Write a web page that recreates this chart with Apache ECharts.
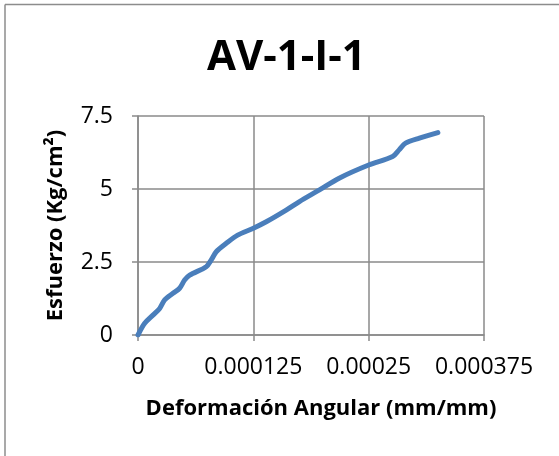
<!DOCTYPE html>
<html>
<head>
<meta charset="utf-8">
<script src="https://cdn.jsdelivr.net/npm/echarts@6/dist/echarts.min.js"></script>
<style>
  html, body { margin: 0; padding: 0; background: #fff; }
  #chart { width: 559px; height: 456px; }
</style>
</head>
<body>
<div id="chart"></div>
<script>
// datos
var deformacion = [0, 0.00000725, 0.0000162, 0.0000235, 0.0000289, 0.0000379, 0.0000451, 0.0000505, 0.000056,
    0.000074, 0.0000794, 0.0000848, 0.0000957, 0.000108, 0.0001245, 0.000139, 0.0001606, 0.000175, 0.0001967,
    0.000218, 0.00025, 0.000276, 0.000283, 0.00029, 0.000305, 0.000325]
var esfuerzo = [0, 0.40, 0.68, 0.91, 1.20, 1.43, 1.60, 1.88, 2.05,
    2.34, 2.57, 2.85, 3.14, 3.42, 3.65, 3.88, 4.28, 4.57, 4.97,
    5.37, 5.82, 6.11, 6.34, 6.57, 6.74, 6.93]
var xTicks = ['0', '0.000125', '0.00025', '0.000375']
var yTicks = ['0', '2.5', '5', '7.5']

var puntos = []
for (var i = 0; i < deformacion.length; i++) {
    puntos.push([deformacion[i], esfuerzo[i]])
}

var gris = '#8a8a8a'
var fuente = 'Open Sans'

var myChart = echarts.init(document.getElementById('chart'))
var option = {
    animation: false,
    graphic: [
        { type: 'line', shape: { x1: 5, y1: 4.5, x2: 559, y2: 4.5 }, style: { stroke: '#8c8c8c', lineWidth: 1.5 } },
        { type: 'line', shape: { x1: 5, y1: 4.5, x2: 5, y2: 456 }, style: { stroke: '#8c8c8c', lineWidth: 1.5 } }
    ],
    title: {
        text: 'AV-1-I-1',
        left: 202,
        top: 32,
        textStyle: { fontFamily: fuente, fontWeight: 'bold', fontSize: 42, color: '#000' }
    },
    grid: { left: 138, right: 75, top: 116, bottom: 121 },
    xAxis: {
        type: 'value',
        min: 0,
        max: 0.000375,
        interval: 0.000125,
        name: 'Deformación Angular (mm/mm)',
        nameLocation: 'middle',
        nameGap: 63,
        nameTextStyle: { fontFamily: fuente, fontWeight: 'bold', fontSize: 22, color: '#000', padding: [0, 0, 0, 20] },
        axisLine: { lineStyle: { color: gris, width: 1.5 } },
        axisTick: { show: true, length: 6, lineStyle: { color: gris, width: 1.5 } },
        axisLabel: {
            margin: 21,
            fontFamily: fuente, fontSize: 23, color: '#000',
            formatter: function (v) {
                return xTicks[Math.round(v / 0.000125)]
            }
        },
        splitLine: { show: true, lineStyle: { color: gris, width: 1.5 } }
    },
    yAxis: {
        type: 'value',
        min: 0,
        max: 7.5,
        interval: 2.5,
        name: 'Esfuerzo (Kg/cm²)',
        nameLocation: 'middle',
        nameGap: 71,
        nameTextStyle: { fontFamily: fuente, fontWeight: 'bold', fontSize: 22, color: '#000' },
        axisLine: { show: true, lineStyle: { color: gris, width: 1.5 } },
        axisTick: { show: true, length: 6, lineStyle: { color: gris, width: 1.5 } },
        axisLabel: {
            margin: 25,
            fontFamily: fuente, fontSize: 23, color: '#000',
            formatter: function (v) {
                return yTicks[Math.round(v / 2.5)]
            }
        },
        splitLine: { show: true, lineStyle: { color: gris, width: 1.5 } }
    },
    series: [
        {
            type: 'line',
            data: puntos,
            smooth: 0.3,
            showSymbol: false,
            lineStyle: { color: '#4a7ebb', width: 5, cap: 'round' }
        }
    ]
}
myChart.setOption(option)
</script>
</body>
</html>
